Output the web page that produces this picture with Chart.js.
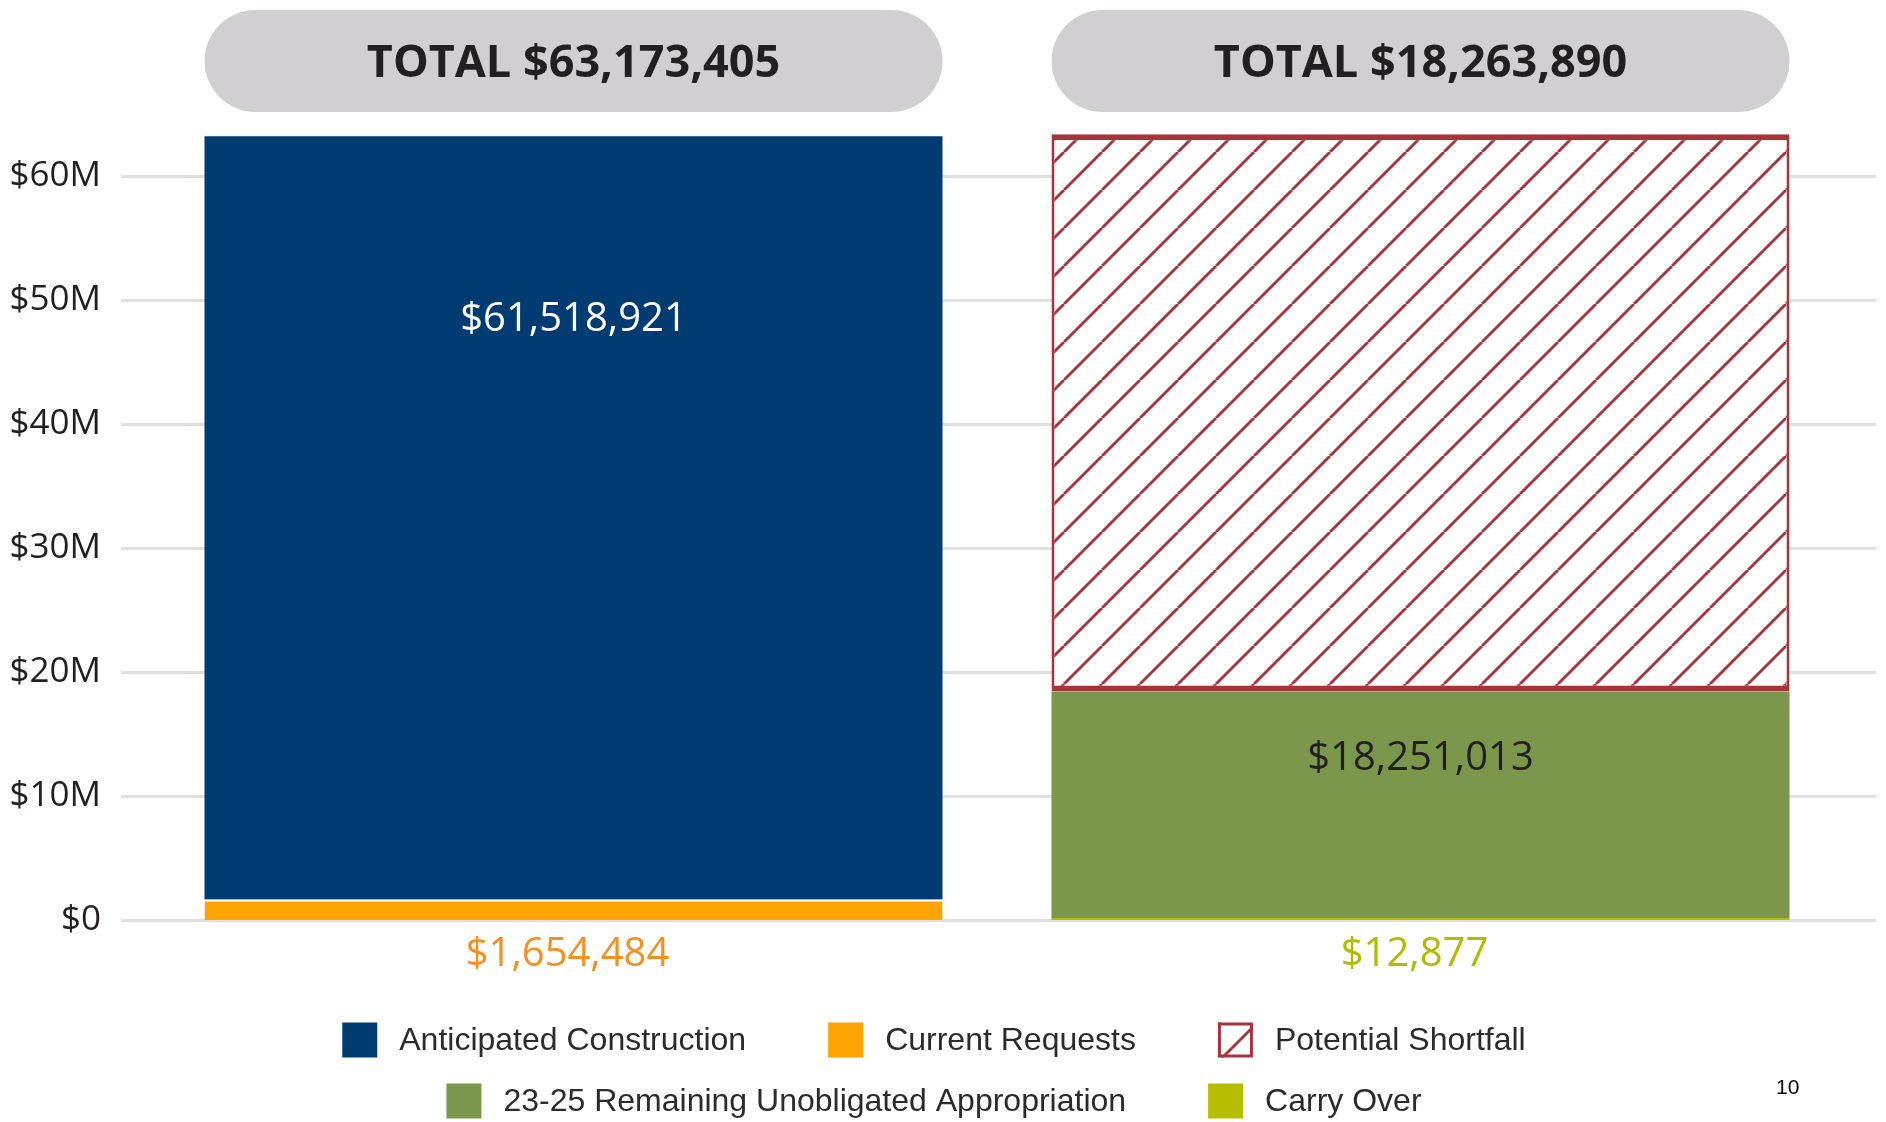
<!DOCTYPE html>
<html>
<head>
<meta charset="utf-8">
<script src="https://cdn.jsdelivr.net/npm/chart.js@4.4.1/dist/chart.umd.min.js"></script>
<style>
  html, body { margin: 0; padding: 0; background: #fff; }
</style>
</head>
<body>
<canvas id="myChart" width="1886" height="1122"></canvas>
<script>
const categories   = ['Requests', 'Funding'];
const anticipated  = [61518921, null];
const requests     = [1654484, null];
const carryOver    = [null, 12877];
const remaining    = [null, 18251013];
const shortfall    = [null, 44909515];
const yTicks       = [0, 10e6, 20e6, 30e6, 40e6, 50e6, 60e6];
const yTickLabels  = ['$0', '$10M', '$20M', '$30M', '$40M', '$50M', '$60M'];
const legendRows   = [
  ['Anticipated Construction', 'Current Requests', 'Potential Shortfall'],
  ['23-25 Remaining Unobligated Appropriation', 'Carry Over']
];

const RED = '#a5353a';
const money = v => '$' + v.toLocaleString('en-US');

// diagonal hatch used for the shortfall
function makeHatch(ctx) {
  const s = 38;
  const c = document.createElement('canvas');
  c.width = s; c.height = s;
  const g = c.getContext('2d');
  g.fillStyle = '#fff';
  g.fillRect(0, 0, s, s);
  g.strokeStyle = RED;
  g.lineWidth = 2.8;
  for (const k of [-1, 0, 1]) {
    g.beginPath();
    g.moveTo(k * s, s);
    g.lineTo(k * s + s, 0);
    g.stroke();
  }
  return ctx.createPattern(c, 'repeat');
}

const canvas = document.getElementById('myChart');
const hatch = makeHatch(canvas.getContext('2d'));

const gridLines = {
  id: 'gridLines',
  beforeDatasetsDraw(chart) {
    const {ctx, chartArea, scales: {y}} = chart;
    ctx.save();
    ctx.strokeStyle = '#e0e0e0';
    ctx.lineWidth = 3;
    y.ticks.forEach(t => {
      const py = Math.round(y.getPixelForValue(t.value)) + 0.5;
      ctx.beginPath();
      ctx.moveTo(chartArea.left - 29, py);
      ctx.lineTo(chartArea.right + 32, py);
      ctx.stroke();
    });
    ctx.restore();
  }
};

const valueLabels = {
  id: 'valueLabels',
  afterDatasetsDraw(chart) {
    const {ctx, chartArea} = chart;
    ctx.save();
    ctx.textAlign = 'center';
    ctx.textBaseline = 'middle';
    ctx.font = '40px "Open Sans"';
    chart.data.datasets.forEach((ds, i) => {
      if (!ds.valueLabel) return;
      chart.getDatasetMeta(i).data.forEach((bar, j) => {
        const v = ds.data[j];
        if (v == null) return;
        ctx.fillStyle = ds.labelColor;
        if (ds.valueLabel === 'inside') {
          ctx.fillText(money(v), bar.x, bar.y + (bar.base - bar.y) * ds.labelAt);
        } else {
          ctx.fillText(money(v), bar.x - 6, chartArea.bottom + 35);
        }
      });
    });
    ctx.restore();
  }
};

const totals = {
  id: 'totals',
  afterDraw(chart) {
    const {ctx} = chart;
    ctx.save();
    categories.forEach((c, j) => {
      let sum = 0, bar = null;
      chart.data.datasets.forEach((ds, i) => {
        if (ds.data[j] == null) return;
        bar = chart.getDatasetMeta(i).data[j];
        if (ds.inTotal) sum += ds.data[j];
      });
      const x0 = bar.x - bar.width / 2, w = bar.width, top = 10, h = 102;
      ctx.fillStyle = '#d1cfd2';
      ctx.beginPath();
      ctx.roundRect(x0, top, w, h, h / 2);
      ctx.fill();
      ctx.fillStyle = '#231f20';
      ctx.font = 'bold 45px "Open Sans"';
      ctx.textAlign = 'center';
      ctx.textBaseline = 'middle';
      ctx.fillText('TOTAL ' + money(sum), bar.x, top + h / 2 + 3);
    });
    ctx.restore();
  }
};

const legendBoxes = {
  id: 'legendBoxes',
  afterDraw(chart) {
    const {ctx} = chart;
    const box = 35, gap = 22, spacing = 82, cx = 934;
    const rowY = [1040, 1101];
    ctx.save();
    ctx.font = '32px "Liberation Sans", Arial, sans-serif';
    ctx.textBaseline = 'middle';
    legendRows.forEach((row, r) => {
      const widths = row.map(l => box + gap + ctx.measureText(l).width);
      const total = widths.reduce((a, b) => a + b, 0) + spacing * (row.length - 1);
      let x = cx - total / 2;
      row.forEach((label, k) => {
        const ds = chart.data.datasets.find(d => d.label === label);
        const y = rowY[r];
        if (ds.backgroundColor === hatch) {
          ctx.fillStyle = hatch;
          ctx.fillRect(x, y - box / 2, box, box);
          ctx.strokeStyle = RED;
          ctx.lineWidth = 3;
          ctx.strokeRect(x + 1.5, y - box / 2 + 1.5, box - 3, box - 3);
        } else {
          ctx.fillStyle = ds.backgroundColor;
          ctx.fillRect(x, y - box / 2, box, box);
        }
        ctx.fillStyle = '#2b2b2b';
        ctx.textAlign = 'left';
        ctx.fillText(label, x + box + gap, y + 1);
        x += widths[k] + spacing;
      });
    });
    // page number
    ctx.fillStyle = '#000';
    ctx.font = '21px "Liberation Sans", Arial, sans-serif';
    ctx.fillText('10', 1776, 1088);
    ctx.restore();
  }
};

const config = {
  type: 'bar',
  data: {
    labels: categories,
    datasets: [
      { label: 'Current Requests', data: requests, backgroundColor: '#ffa400',
        borderColor: '#fff', borderWidth: {top: 2}, borderSkipped: false,
        valueLabel: 'below', labelColor: '#f7901e', inTotal: true },
      { label: 'Anticipated Construction', data: anticipated, backgroundColor: '#003b71',
        valueLabel: 'inside', labelAt: 0.24, labelColor: '#fff', inTotal: true },
      { label: 'Carry Over', data: carryOver, backgroundColor: '#b5bd00', minBarLength: 2,
        valueLabel: 'below', labelColor: '#b3bb00', inTotal: true },
      { label: '23-25 Remaining Unobligated Appropriation', data: remaining, backgroundColor: '#7a974c',
        valueLabel: 'inside', labelAt: 0.295, labelColor: '#231f20', inTotal: true },
      { label: 'Potential Shortfall', data: shortfall, backgroundColor: hatch,
        borderColor: RED, borderWidth: {top: 6, bottom: 6, left: 3, right: 3}, borderSkipped: false }
    ]
  },
  options: {
    responsive: false,
    animation: false,
    categoryPercentage: 0.8713,
    barPercentage: 1,
    layout: { padding: { top: 113.5, right: 42, bottom: 202, left: 0 } },
    plugins: { legend: { display: false }, tooltip: { enabled: false } },
    scales: {
      x: { stacked: true, display: false },
      y: {
        stacked: true, min: 0, max: 65e6,
        afterBuildTicks: s => { s.ticks = yTicks.map(v => ({value: v})); },
        afterFit: s => { s.width = 150; },
        grid: { display: false, drawTicks: false },
        border: { display: false },
        ticks: {
          padding: 49, color: '#231f20',
          font: { family: '"Open Sans"', size: 35 },
          callback: v => yTickLabels[yTicks.indexOf(v)]
        }
      }
    }
  },
  plugins: [gridLines, valueLabels, totals, legendBoxes]
};

const myChart = new Chart(canvas, config);
</script>
</body>
</html>
